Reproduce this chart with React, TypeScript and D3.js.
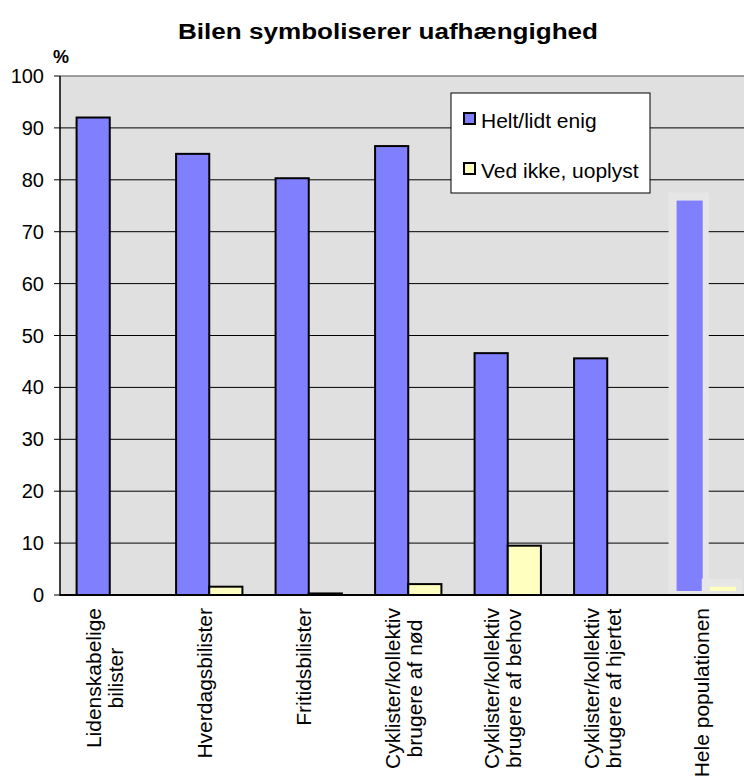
import { useRef, useEffect } from 'react'
import * as d3 from 'd3'

// chart data
const categories = [
  "Lidenskabelige\nbilister",
  "Hverdagsbilister",
  "Fritidsbilister",
  "Cyklister/kollektiv\nbrugere af nød",
  "Cyklister/kollektiv\nbrugere af behov",
  "Cyklister/kollektiv\nbrugere af hjertet",
  "Hele populationen",
]
const seriesNames = ["Helt/lidt enig", "Ved ikke, uoplyst"]
const enigValues = [92, 85, 80.3, 86.5, 46.6, 45.6, 76]
const vedIkkeValues = [0, 1.6, 0.3, 2.1, 9.5, 0, 1.6]
const yTicks = [0, 10, 20, 30, 40, 50, 60, 70, 80, 90, 100]
const highlightIndex = 6

const seriesColors = ["#8080ff", "#ffffc0"]
const font = "'Liberation Sans', Arial, sans-serif"

export default function App() {
  const svgRef = useRef<SVGSVGElement>(null)
  const width = 744
  const height = 780

  useEffect(() => {
    if (!svgRef.current) return
    const svg = d3.select(svgRef.current)
    svg.selectAll("*").remove()

    const left = 60
    const top = 76
    const bottom = 595
    const step = 99.5

    const x = d3.scaleBand<number>()
      .domain(categories.map((_, i) => i))
      .range([left, left + step * categories.length])
      .paddingInner(0)
      .paddingOuter(0)

    const xInner = d3.scaleBand<number>()
      .domain([0, 1])
      .range([0, x.bandwidth()])
      .paddingInner(0)
      .paddingOuter(0.5)

    const y = d3.scaleLinear().domain([0, 100]).range([bottom, top])

    svg.append("rect")
      .attr("width", width).attr("height", height).attr("fill", "#ffffff")

    // plot background
    svg.append("rect")
      .attr("x", left).attr("y", top)
      .attr("width", width - left).attr("height", bottom - top)
      .attr("fill", "#e0e0e0")

    // gridlines
    svg.append("g")
      .selectAll("line")
      .data(yTicks.filter(t => t > 0 && t < 100))
      .enter()
      .append("line")
      .attr("x1", left).attr("x2", width)
      .attr("y1", d => y(d)).attr("y2", d => y(d))
      .attr("stroke", "#000").attr("stroke-width", 1)

    svg.append("line")
      .attr("x1", left).attr("x2", width)
      .attr("y1", top).attr("y2", top)
      .attr("stroke", "#808080").attr("stroke-width", 1.5)

    const series = [enigValues, vedIkkeValues]

    // bars
    series.forEach((vals, s) => {
      vals.forEach((v, i) => {
        const bx = (x(i) as number) + (xInner(s) as number)
        const bw = xInner.bandwidth()
        if (i === highlightIndex) {
          svg.append("rect")
            .attr("x", bx - 5).attr("y", y(v) - 8)
            .attr("width", bw + 7).attr("height", bottom - y(v) + 8)
            .attr("fill", "#e6e6e6")
          svg.append("rect")
            .attr("x", bx + 3).attr("y", y(v))
            .attr("width", bw - 7).attr("height", Math.max(0, bottom - 4 - y(v)))
            .attr("fill", seriesColors[s])
          return
        }
        if (v <= 0) return
        svg.append("rect")
          .attr("x", bx).attr("y", y(v))
          .attr("width", bw).attr("height", bottom - y(v))
          .attr("fill", seriesColors[s])
          .attr("stroke", "#000").attr("stroke-width", 2)
      })
    })

    // axes
    svg.append("line")
      .attr("x1", left).attr("x2", width)
      .attr("y1", bottom).attr("y2", bottom)
      .attr("stroke", "#000").attr("stroke-width", 2)
    svg.append("line")
      .attr("x1", left).attr("x2", left)
      .attr("y1", top).attr("y2", bottom + 1)
      .attr("stroke", "#000").attr("stroke-width", 1.5)

    const yAxis = svg.append("g")
    yTicks.forEach(t => {
      yAxis.append("line")
        .attr("x1", left - 6).attr("x2", left)
        .attr("y1", y(t)).attr("y2", y(t))
        .attr("stroke", "#000").attr("stroke-width", 1)
      yAxis.append("text")
        .attr("x", 44).attr("y", y(t)).attr("dy", "0.35em")
        .attr("text-anchor", "end")
        .style("font-family", font)
        .style("font-size", "20px")
        .text(t)
    })

    // category labels
    categories.forEach((c, i) => {
      const lines = c.split("\n")
      const cx = (x(i) as number) + x.bandwidth() / 2 - 5
      const g = svg.append("g")
        .attr("transform", `translate(${cx},608) rotate(-90)`)
      const texts = lines.map((ln, k) => g.append("text")
        .attr("y", (k - (lines.length - 1) / 2) * 22)
        .attr("dy", "0.35em")
        .attr("text-anchor", "middle")
        .style("font-family", font)
        .style("font-size", "21px")
        .text(ln))
      const maxLen = d3.max(texts, t => (t.node() as SVGTextElement).getComputedTextLength()) || 0
      texts.forEach(t => t.attr("x", -maxLen / 2))
    })

    // title
    svg.append("text")
      .attr("x", 388).attr("y", 39)
      .attr("text-anchor", "middle")
      .attr("textLength", 420)
      .attr("lengthAdjust", "spacingAndGlyphs")
      .style("font-family", font)
      .style("font-size", "22px")
      .style("font-weight", "bold")
      .text("Bilen symboliserer uafhængighed")

    svg.append("text")
      .attr("x", 53).attr("y", 63)
      .style("font-family", font)
      .style("font-size", "18px")
      .style("font-weight", "bold")
      .text("%")

    // legend
    const legend = svg.append("g").attr("transform", "translate(451,93)")
    legend.append("rect")
      .attr("width", 199).attr("height", 100)
      .attr("fill", "#fff").attr("stroke", "#000").attr("stroke-width", 1)
    seriesNames.forEach((name, s) => {
      legend.append("rect")
        .attr("x", 13).attr("y", 20 + s * 50)
        .attr("width", 11).attr("height", 11)
        .attr("fill", seriesColors[s])
        .attr("stroke", "#000").attr("stroke-width", 2)
      legend.append("text")
        .attr("x", 30).attr("y", 35 + s * 50)
        .style("font-family", font)
        .style("font-size", "21px")
        .text(name)
    })
  }, [])

  return (
    <svg
      ref={svgRef}
      width={width}
      height={height}
      style={{ position: 'absolute', left: 0, top: 0, overflow: 'hidden' }}
    />
  )
}
